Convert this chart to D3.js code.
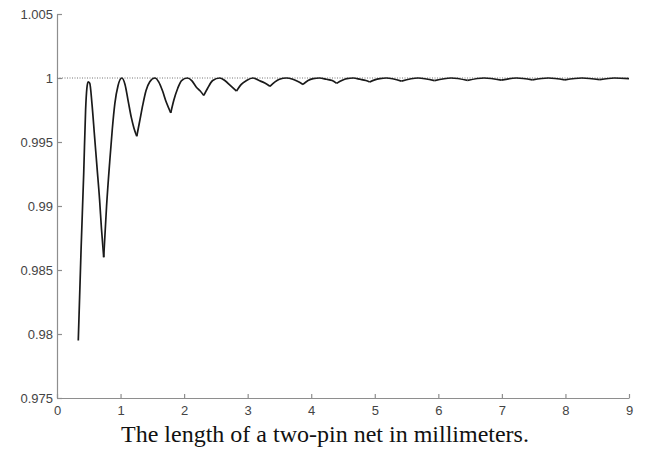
<!DOCTYPE html>
<html lang="en">
<head>
    <meta charset="UTF-8">
    <title>Two-pin net length</title>
    <style>
        body { margin: 0; background: #fff; }
        .axis path, .axis line { stroke: #8e8e8e; stroke-width: 1.2px; }
        .axis text { font-family: "Liberation Sans", Arial, sans-serif; font-size: 13px; fill: #444; }
        .caption { font-family: "Liberation Serif", "Times New Roman", serif; font-size: 24px; fill: #111; }
    </style>
</head>
<body>
    <svg id="chart" width="649" height="449"></svg>

    <script src="https://d3js.org/d3.v7.min.js"></script>
    <script>
        // net length (mm) and normalised value
        const lengthMm = [
            0.335, 0.38, 0.42, 0.45, 0.47, 0.49, 0.515, 0.55, 0.59, 0.63, 0.67, 0.70, 0.735,
            0.78, 0.83, 0.87, 0.91, 0.96, 1.02, 1.07, 1.12, 1.17, 1.21, 1.255,
            1.30, 1.35, 1.40, 1.46, 1.54, 1.60, 1.66, 1.72, 1.79,
            1.84, 1.90, 1.96, 2.05, 2.12, 2.19, 2.25, 2.31,
            2.37, 2.45, 2.56, 2.64, 2.73, 2.825,
            2.90, 2.98, 3.08, 3.18, 3.27, 3.35,
            3.43, 3.50, 3.61, 3.71, 3.80, 3.87,
            3.95, 4.03, 4.13, 4.24, 4.33, 4.40,
            4.48, 4.56, 4.66, 4.77, 4.86, 4.92,
            5.00, 5.08, 5.18, 5.42, 5.68, 5.94, 6.20, 6.46, 6.72, 6.99,
            7.23, 7.48, 7.73, 7.99, 8.26, 8.54, 8.77, 9.0
        ];
        const ratio = [
            0.9795, 0.9868, 0.9925, 0.9975, 0.9992, 0.9997, 0.9996, 0.9980, 0.9955, 0.9930, 0.9905, 0.9882, 0.9860,
            0.9900, 0.9935, 0.9960, 0.9980, 0.9994, 1.0000, 0.9995, 0.9982, 0.9969, 0.9961, 0.99545,
            0.9966, 0.9979, 0.9990, 0.9997, 1.0000, 0.9997, 0.9990, 0.9981, 0.99728,
            0.9983, 0.9992, 0.9998, 1.0000, 0.9998, 0.9993, 0.9990, 0.99864,
            0.9992, 0.9998, 1.0000, 0.9998, 0.9994, 0.99898,
            0.9995, 0.9998, 1.0000, 0.9998, 0.9996, 0.99935,
            0.9997, 0.9999, 1.0000, 0.9999, 0.9997, 0.9995,
            0.9998, 0.99995, 1.0000, 0.9999, 0.9998, 0.99958,
            0.9998, 0.99995, 1.0000, 0.9999, 0.9998, 0.99968,
            0.99985, 0.99995, 1.0000, 0.99976, 1.0000, 0.99979, 1.0000, 0.99981, 1.0000, 0.99983,
            1.0000, 0.99985, 1.0000, 0.99986, 1.0000, 0.99987, 1.0000, 0.99995
        ];
        const xTicks = [0, 1, 2, 3, 4, 5, 6, 7, 8, 9];
        const yTicks = [0.975, 0.98, 0.985, 0.99, 0.995, 1, 1.005];
        const caption = "The length of a two-pin net in millimeters.";

        const svg = d3.select("#chart");
        const plotLeft = 57, plotRight = 629, plotTop = 14, plotBottom = 398;

        const x = d3.scaleLinear().domain([0, 9]).range([plotLeft, plotRight]);
        const y = d3.scaleLinear().domain([0.975, 1.005]).range([plotBottom, plotTop]);

        // axes, ticks pointing inward
        svg.append("g")
            .attr("class", "axis")
            .attr("transform", `translate(0,${plotBottom})`)
            .call(d3.axisBottom(x).tickValues(xTicks).tickSize(-4).tickPadding(7).tickSizeOuter(0))
            .selectAll("text").attr("dy", "0.75em");

        svg.append("g")
            .attr("class", "axis")
            .attr("transform", `translate(${plotLeft},0)`)
            .call(d3.axisLeft(y).tickValues(yTicks).tickSize(-5).tickPadding(4).tickSizeOuter(0)
                .tickFormat(d => d3.format("")(+d.toFixed(3))));

        // reference line at 1
        svg.append("line")
            .attr("x1", x(0)).attr("x2", x(9))
            .attr("y1", y(1)).attr("y2", y(1))
            .attr("stroke", "#777")
            .attr("stroke-width", 1.2)
            .attr("stroke-dasharray", "1,1.5");

        // split the curve at its dips so each hump is smooth and the dips stay sharp
        const pts = lengthMm.map((v, i) => [v, ratio[i]]);
        const segments = [];
        let current = [pts[0]];
        for (let i = 1; i < pts.length; i++) {
            current.push(pts[i]);
            const isDip = i < pts.length - 1 && pts[i][1] < pts[i - 1][1] && pts[i][1] < pts[i + 1][1];
            if (isDip) {
                segments.push(current);
                current = [pts[i]];
            }
        }
        segments.push(current);

        const line = d3.line()
            .x(d => x(d[0]))
            .y(d => y(d[1]))
            .curve(d3.curveMonotoneX);

        svg.append("g").selectAll("path")
            .data(segments)
            .join("path")
            .attr("d", line)
            .attr("fill", "none")
            .attr("stroke", "#1a1a1a")
            .attr("stroke-width", 1.7)
            .attr("stroke-linejoin", "round");

        svg.append("text")
            .attr("class", "caption")
            .attr("x", 325)
            .attr("y", 442)
            .attr("text-anchor", "middle")
            .text(caption);
    </script>
</body>
</html>
